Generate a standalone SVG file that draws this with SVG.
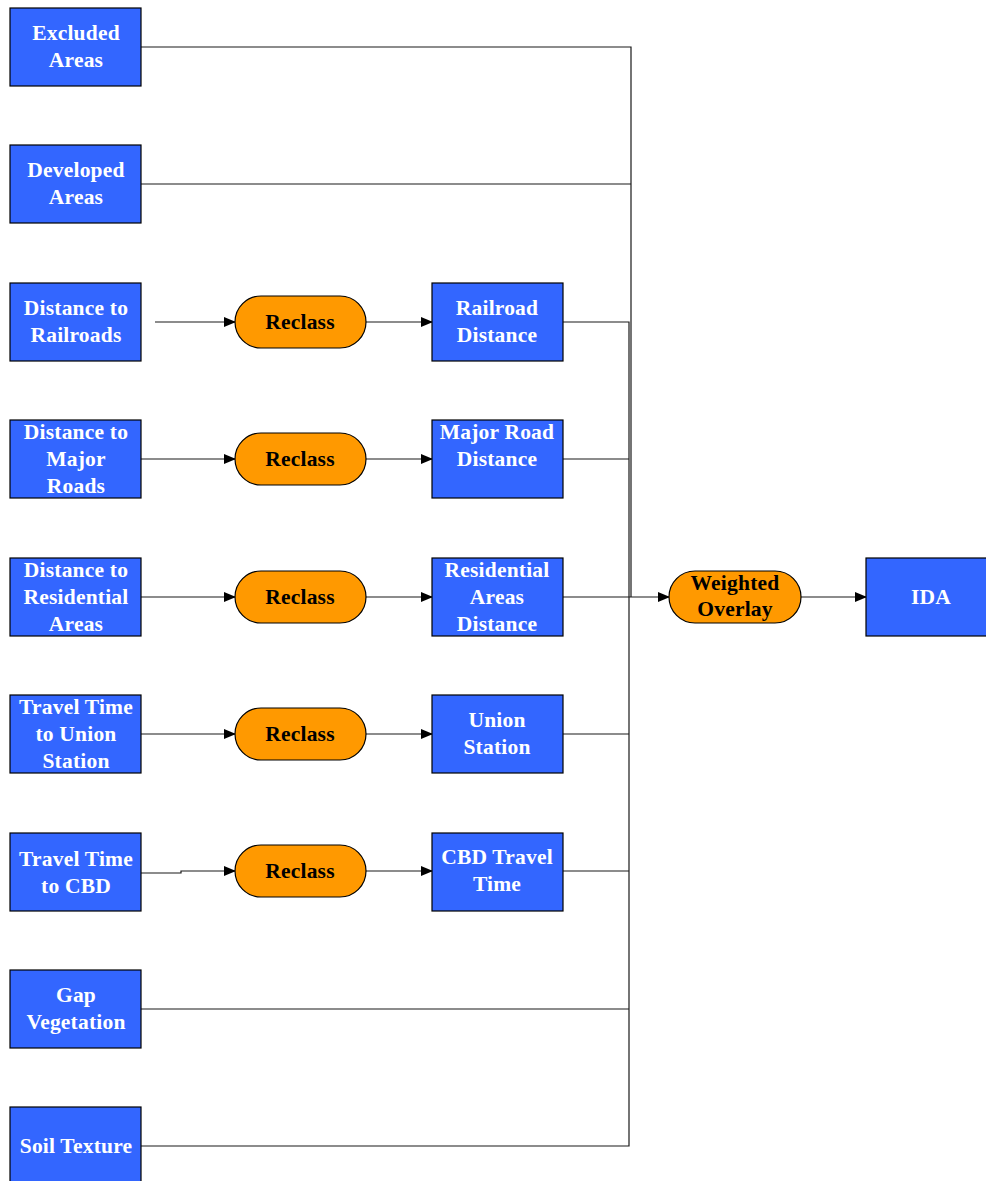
<svg xmlns="http://www.w3.org/2000/svg" width="986" height="1181" viewBox="0 0 986 1181">
<style>
.box{fill:#3366FF;stroke:#000;stroke-width:1.2}
.pill{fill:#FF9900;stroke:#000;stroke-width:1.2}
.wt{fill:#fff;font-family:"Liberation Serif",serif;font-weight:bold;font-size:21.5px;text-anchor:middle;letter-spacing:0.2px}
.bt{fill:#000;font-family:"Liberation Serif",serif;font-weight:bold;font-size:21.5px;text-anchor:middle;letter-spacing:0.2px}
.ln{fill:none;stroke:#1a1a1a;stroke-width:1.2}
.ar{fill:none;stroke:#1a1a1a;stroke-width:1.2;marker-end:url(#ah)}
</style>
<defs>
<marker id="ah" markerWidth="12" markerHeight="10" refX="11" refY="5" orient="auto" markerUnits="userSpaceOnUse">
<path d="M0,0 L12,5 L0,10 Z" fill="#000"/>
</marker>
</defs>
<rect width="986" height="1181" fill="#fff"/>
<g id="connectors">
<path class="ln" d="M141,47 H631 V597"/>
<path class="ln" d="M141,184 H631"/>
<path class="ar" d="M155,322 H235"/>
<path class="ar" d="M366,322 H432"/>
<path class="ln" d="M563,322 H629 V1146 H141"/>
<path class="ar" d="M141,459 H235"/>
<path class="ar" d="M366,459 H432"/>
<path class="ln" d="M563,459 H629"/>
<path class="ar" d="M141,597 H235"/>
<path class="ar" d="M366,597 H432"/>
<path class="ln" d="M563,597 H629"/>
<path class="ar" d="M141,734 H235"/>
<path class="ar" d="M366,734 H432"/>
<path class="ln" d="M563,734 H629"/>
<path class="ar" d="M141,873 H181 V871 H235"/>
<path class="ar" d="M366,871 H432"/>
<path class="ln" d="M563,871 H629"/>
<path class="ln" d="M141,1009 H629"/>
<path class="ar" d="M629,597 H669"/>
<path class="ar" d="M801,597 H866"/>
</g>
<g id="n-excluded"><rect class="box" x="10" y="8" width="131" height="78"/><text class="wt" x="76" y="40">Excluded</text><text class="wt" x="76" y="67">Areas</text></g>
<g id="n-developed"><rect class="box" x="10" y="145" width="131" height="78"/><text class="wt" x="76" y="177">Developed</text><text class="wt" x="76" y="204">Areas</text></g>
<g id="n-dist-rail"><rect class="box" x="10" y="283" width="131" height="78"/><text class="wt" x="76" y="315">Distance to</text><text class="wt" x="76" y="342">Railroads</text></g>
<g id="n-dist-road"><rect class="box" x="10" y="420" width="131" height="78"/><text class="wt" x="76" y="439">Distance to</text><text class="wt" x="76" y="466">Major</text><text class="wt" x="76" y="493">Roads</text></g>
<g id="n-dist-res"><rect class="box" x="10" y="558" width="131" height="78"/><text class="wt" x="76" y="577">Distance to</text><text class="wt" x="76" y="604">Residential</text><text class="wt" x="76" y="631">Areas</text></g>
<g id="n-tt-union"><rect class="box" x="10" y="695" width="131" height="78"/><text class="wt" x="76" y="714">Travel Time</text><text class="wt" x="76" y="741">to Union</text><text class="wt" x="76" y="768">Station</text></g>
<g id="n-tt-cbd"><rect class="box" x="10" y="833" width="131" height="78"/><text class="wt" x="76" y="866">Travel Time</text><text class="wt" x="76" y="893">to CBD</text></g>
<g id="n-gap"><rect class="box" x="10" y="970" width="131" height="78"/><text class="wt" x="76" y="1002">Gap</text><text class="wt" x="76" y="1029">Vegetation</text></g>
<g id="n-soil"><rect class="box" x="10" y="1107" width="131" height="80"/><text class="wt" x="76" y="1153">Soil Texture</text></g>
<g id="r1"><rect class="pill" x="235" y="296" width="131" height="52" rx="26"/><text class="bt" x="300" y="329">Reclass</text></g>
<g id="r2"><rect class="pill" x="235" y="433" width="131" height="52" rx="26"/><text class="bt" x="300" y="466">Reclass</text></g>
<g id="r3"><rect class="pill" x="235" y="571" width="131" height="52" rx="26"/><text class="bt" x="300" y="604">Reclass</text></g>
<g id="r4"><rect class="pill" x="235" y="708" width="131" height="52" rx="26"/><text class="bt" x="300" y="741">Reclass</text></g>
<g id="r5"><rect class="pill" x="235" y="845" width="131" height="52" rx="26"/><text class="bt" x="300" y="878">Reclass</text></g>
<g id="m-rail"><rect class="box" x="432" y="283" width="131" height="78"/><text class="wt" x="497" y="315">Railroad</text><text class="wt" x="497" y="342">Distance</text></g>
<g id="m-road"><rect class="box" x="432" y="420" width="131" height="78"/><text class="wt" x="497" y="439">Major Road</text><text class="wt" x="497" y="466">Distance</text></g>
<g id="m-res"><rect class="box" x="432" y="558" width="131" height="78"/><text class="wt" x="497" y="577">Residential</text><text class="wt" x="497" y="604">Areas</text><text class="wt" x="497" y="631">Distance</text></g>
<g id="m-union"><rect class="box" x="432" y="695" width="131" height="78"/><text class="wt" x="497" y="727">Union</text><text class="wt" x="497" y="754">Station</text></g>
<g id="m-cbd"><rect class="box" x="432" y="833" width="131" height="78"/><text class="wt" x="497" y="864">CBD Travel</text><text class="wt" x="497" y="891">Time</text></g>
<g id="n-overlay"><rect class="pill" x="669" y="571" width="132" height="52" rx="26"/><text class="bt" x="735" y="590">Weighted</text><text class="bt" x="735" y="616">Overlay</text></g>
<g id="n-ida"><rect class="box" x="866" y="558" width="124" height="78"/><text class="wt" x="931" y="604">IDA</text></g>
</svg>
